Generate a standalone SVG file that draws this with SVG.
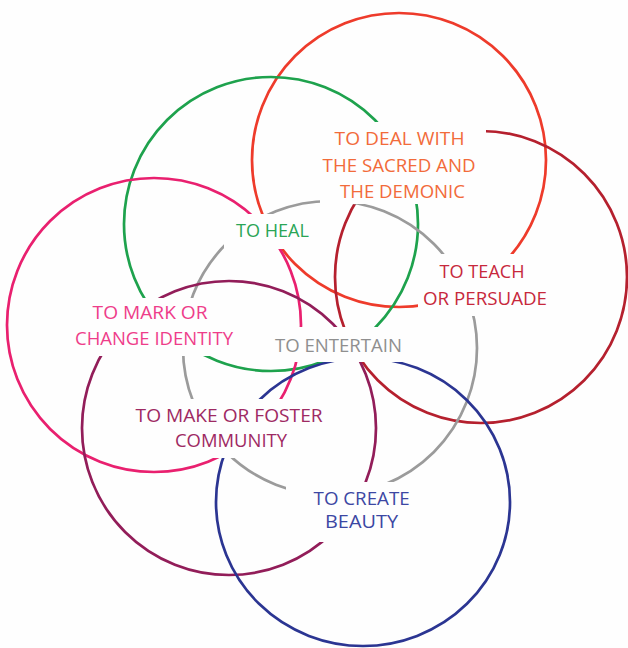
<svg xmlns="http://www.w3.org/2000/svg" width="628" height="648" viewBox="0 0 628 648">
  <style>
    .ring { fill: none; stroke-width: 2.7; }
    .lbl { font-family: "Open Sans", "Liberation Sans", sans-serif; font-size: 18.5px; text-anchor: middle; }
  </style>
  <defs>
    <!-- label boxes knock the rings out around each caption -->
    <mask id="labelGaps" maskUnits="userSpaceOnUse" x="0" y="0" width="628" height="648">
      <rect x="0" y="0" width="628" height="648" fill="#fff"/>
      <rect x="320" y="122" width="166" height="82" fill="#000"/>
      <rect x="224" y="214" width="92" height="35" fill="#000"/>
      <rect x="68" y="298" width="174" height="58" fill="#000"/>
      <rect x="268" y="327" width="144" height="35" fill="#000"/>
      <rect x="132" y="399" width="200" height="59" fill="#000"/>
      <rect x="286" y="482" width="136" height="60" fill="#000"/>
      <rect x="418" y="254" width="134" height="62" fill="#000"/>
    </mask>
  </defs>
  <rect width="628" height="648" fill="#fefefe"/>

  <g id="sacred">
    <circle class="ring" cx="399" cy="160" r="147" stroke="#ee3b2b" mask="url(#labelGaps)"/>
    <text class="lbl" fill="#f26b3a">
      <tspan x="402" y="145" textLength="130" lengthAdjust="spacingAndGlyphs">TO DEAL WITH</tspan>
      <tspan x="401.5" y="171.5" textLength="153" lengthAdjust="spacingAndGlyphs">THE SACRED AND</tspan>
      <tspan x="402.5" y="198" textLength="125" lengthAdjust="spacingAndGlyphs">THE DEMONIC</tspan>
    </text>
  </g>

  <g id="heal">
    <circle class="ring" cx="271" cy="224" r="147" stroke="#1ea24d" mask="url(#labelGaps)"/>
    <text class="lbl" fill="#2aa556" x="272.5" y="237" textLength="73" lengthAdjust="spacingAndGlyphs">TO HEAL</text>
  </g>

  <g id="teach">
    <circle class="ring" cx="481" cy="277" r="146" stroke="#b5202e" mask="url(#labelGaps)"/>
    <text class="lbl" fill="#c7283c">
      <tspan x="484.5" y="278" textLength="85" lengthAdjust="spacingAndGlyphs">TO TEACH</tspan>
      <tspan x="485" y="305" textLength="124" lengthAdjust="spacingAndGlyphs">OR PERSUADE</tspan>
    </text>
  </g>

  <g id="identity">
    <circle class="ring" cx="154" cy="325" r="147" stroke="#e9206f" mask="url(#labelGaps)"/>
    <text class="lbl" fill="#ee3d8a">
      <tspan x="152.5" y="319" textLength="115" lengthAdjust="spacingAndGlyphs">TO MARK OR</tspan>
      <tspan x="154" y="345" textLength="158" lengthAdjust="spacingAndGlyphs">CHANGE IDENTITY</tspan>
    </text>
  </g>

  <g id="entertain">
    <circle class="ring" cx="330" cy="348" r="147" stroke="#9b9b9b" mask="url(#labelGaps)"/>
    <text class="lbl" fill="#8f8f8f" x="338.5" y="352" textLength="127" lengthAdjust="spacingAndGlyphs">TO ENTERTAIN</text>
  </g>

  <g id="community">
    <circle class="ring" cx="229" cy="428" r="147" stroke="#921d59" mask="url(#labelGaps)"/>
    <text class="lbl" fill="#9e2a63">
      <tspan x="231.5" y="422" textLength="187" lengthAdjust="spacingAndGlyphs">TO MAKE OR FOSTER</tspan>
      <tspan x="231" y="447" textLength="112" lengthAdjust="spacingAndGlyphs">COMMUNITY</tspan>
    </text>
  </g>

  <g id="beauty">
    <ellipse class="ring" cx="363" cy="502" rx="147" ry="144" stroke="#2b3592" mask="url(#labelGaps)"/>
    <text class="lbl" fill="#3c47a3">
      <tspan x="364" y="505" textLength="96" lengthAdjust="spacingAndGlyphs">TO CREATE</tspan>
      <tspan x="361.5" y="528" textLength="73" lengthAdjust="spacingAndGlyphs">BEAUTY</tspan>
    </text>
  </g>

  <g id="connectors"/>
</svg>
